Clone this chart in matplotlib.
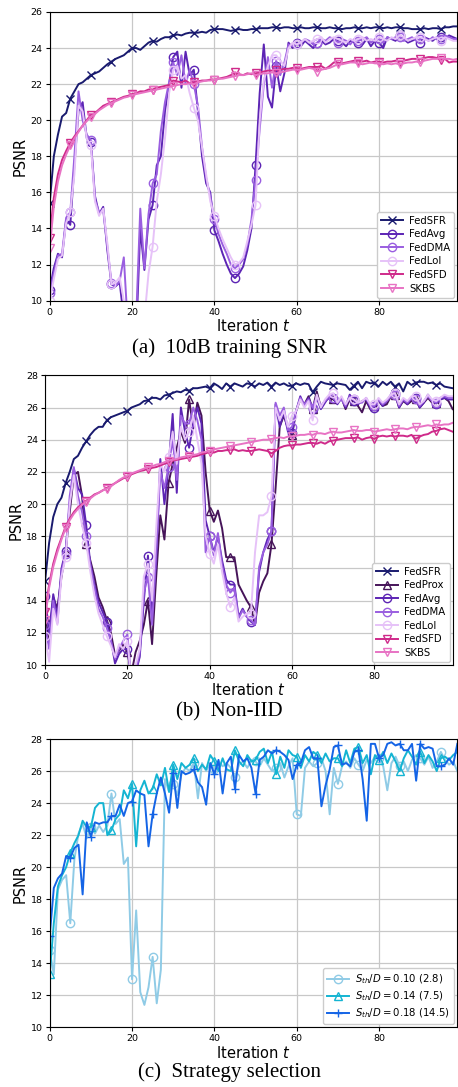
import numpy as np
import matplotlib
matplotlib.use("Agg")
import matplotlib.pyplot as plt

iters = np.arange(100)

# ---- (a) 10dB training SNR ----
a_fedsfr = [15.4, 18.0, 19.2, 20.2, 20.4, 21.2, 21.6, 22.0, 22.1, 22.3,
            22.5, 22.6, 22.7, 22.9, 23.1, 23.25, 23.4, 23.5, 23.6, 23.8,
            24.0, 24.0, 23.9, 24.1, 24.3, 24.4, 24.35, 24.5, 24.6, 24.6,
            24.7, 24.75, 24.7, 24.8, 24.85, 24.85, 24.85, 24.9, 24.85, 25.0,
            25.05, 25.05, 25.05, 25.0, 24.95, 25.0, 25.05, 25.0, 25.0, 25.05,
            25.05, 25.1, 25.1, 25.1, 25.15, 25.15, 25.1, 25.15, 25.15, 25.1,
            25.1, 25.15, 25.1, 25.1, 25.15, 25.15, 25.1, 25.1, 25.15, 25.1,
            25.1, 25.05, 25.1, 25.1, 25.15, 25.1, 25.1, 25.15, 25.1, 25.15,
            25.15, 25.1, 25.15, 25.1, 25.15, 25.15, 25.1, 25.1, 25.05, 25.05,
            25.05, 25.1, 25.05, 25.1, 25.1, 25.05, 25.15, 25.15, 25.2, 25.2]
a_fedavg = [10.6, 11.8, 12.6, 12.4, 14.5, 14.2, 17.5, 20.5, 21.0, 19.0,
            18.8, 15.8, 14.8, 15.2, 12.8, 10.9, 10.8, 11.0, 9.0, 8.0,
            7.5, 8.0, 14.0, 11.7, 14.5, 15.3, 17.5, 18.0, 20.5, 22.0,
            23.5, 23.8, 21.8, 23.8, 22.5, 22.8, 20.5, 18.0, 16.5, 16.0,
            13.9, 13.3, 12.6, 12.0, 11.5, 11.25, 11.5, 11.9, 12.8, 14.0,
            17.5, 21.5, 24.2, 21.3, 20.7, 23.0, 21.6, 22.6, 24.3, 24.0,
            24.3, 24.1, 24.4, 24.2, 24.0, 24.3, 24.4, 24.2, 24.3, 24.5,
            24.4, 24.3, 24.1, 24.4, 24.3, 24.3, 24.2, 24.5, 24.1, 24.4,
            24.3, 24.0, 24.6, 24.5, 24.4, 24.7, 24.5, 24.3, 24.4, 24.5,
            24.3, 24.6, 24.5, 24.4, 24.6, 24.6, 24.5, 24.7, 24.6, 24.5]
a_feddma = [10.4, 11.5, 12.5, 12.6, 14.6, 14.9, 18.0, 21.6, 20.0, 19.2,
            18.9, 15.6, 14.9, 15.0, 13.0, 11.0, 10.8, 11.1, 12.4, 8.5,
            8.0, 9.0, 15.1, 11.8, 14.8, 16.5, 17.0, 19.4, 21.0, 22.1,
            23.2, 22.5, 23.6, 22.0, 22.8, 22.0, 20.8, 18.5, 16.8, 15.8,
            14.5, 13.7, 13.1, 12.6, 12.0, 11.8, 12.0, 12.3, 13.1, 14.5,
            16.7, 19.5, 22.0, 23.5, 21.8, 23.3, 22.5, 23.2, 24.2, 24.1,
            24.2, 24.3, 24.5, 24.4, 24.2, 24.3, 24.5, 24.4, 24.6, 24.5,
            24.3, 24.5, 24.4, 24.2, 24.5, 24.4, 24.5, 24.6, 24.3, 24.5,
            24.5, 24.3, 24.6, 24.5, 24.6, 24.6, 24.4, 24.5, 24.6, 24.4,
            24.5, 24.6, 24.4, 24.6, 24.5, 24.5, 24.7, 24.6, 24.5, 24.5]
a_fedlol = [10.0, 11.2, 12.3, 12.5, 14.3, 14.9, 17.0, 20.8, 20.5, 19.0,
            18.6, 15.5, 14.7, 15.1, 13.2, 10.9, 11.0, 11.3, 10.0, 8.0,
            7.5, 8.0, 8.5, 9.0, 11.5, 13.0, 15.5, 17.0, 19.0, 21.5,
            22.8, 23.0, 22.3, 22.5, 21.5, 20.7, 20.0, 18.5, 17.0, 15.5,
            14.7, 14.0, 13.4, 12.9, 12.4, 12.0, 12.1, 12.4, 13.3, 14.2,
            15.3, 20.0, 22.2, 23.0, 23.6, 23.6, 23.3, 23.0, 24.0, 24.3,
            24.2, 24.3, 24.5, 24.3, 24.4, 24.5, 24.6, 24.3, 24.5, 24.6,
            24.5, 24.4, 24.3, 24.5, 24.4, 24.5, 24.6, 24.4, 24.5, 24.4,
            24.6, 24.5, 24.4, 24.6, 24.5, 24.7, 24.6, 24.4, 24.5, 24.6,
            24.6, 24.5, 24.4, 24.5, 24.6, 24.4, 24.6, 24.5, 24.4, 24.4]
a_fedsfd = [13.5, 15.7, 17.0, 17.8, 18.3, 18.75, 19.1, 19.4, 19.7, 20.0,
            20.3, 20.4, 20.6, 20.8, 20.9, 21.0, 21.1, 21.2, 21.3, 21.35,
            21.45, 21.5, 21.6, 21.6, 21.7, 21.7, 21.8, 21.85, 21.9, 21.95,
            22.2, 22.15, 22.1, 22.2, 22.05, 22.1, 22.15, 22.2, 22.2, 22.25,
            22.25, 22.3, 22.35, 22.4, 22.5, 22.65, 22.55, 22.5, 22.6, 22.55,
            22.6, 22.65, 22.7, 22.75, 22.75, 22.8, 22.8, 22.85, 22.85, 22.9,
            22.9, 22.85, 22.9, 22.95, 22.95, 22.95, 23.0, 22.85, 23.0, 23.2,
            23.2, 23.15, 23.2, 23.25, 23.3, 23.3, 23.25, 23.3, 23.2, 23.25,
            23.25, 23.2, 23.25, 23.25, 23.3, 23.25, 23.3, 23.35, 23.4, 23.4,
            23.4, 23.45, 23.5, 23.5, 23.45, 23.35, 23.4, 23.2, 23.25, 23.25]
a_skbs = [12.9, 15.2, 16.6, 17.5, 18.1, 18.6, 19.0, 19.35, 19.7, 19.95,
          20.2, 20.35, 20.55, 20.7, 20.85, 20.95, 21.05, 21.15, 21.25, 21.3,
          21.4, 21.45, 21.5, 21.55, 21.6, 21.65, 21.7, 21.75, 21.8, 21.85,
          21.9, 21.95, 22.0, 22.0, 22.05, 22.0, 22.1, 22.15, 22.2, 22.2,
          22.25, 22.3, 22.3, 22.35, 22.4, 22.45, 22.5, 22.5, 22.55, 22.6,
          22.5, 22.55, 22.6, 22.6, 22.65, 22.6, 22.65, 22.7, 22.75, 22.8,
          22.8, 22.8, 22.85, 22.9, 22.85, 22.7, 22.8, 22.85, 22.9, 23.0,
          23.1, 23.1, 23.15, 23.2, 23.2, 23.15, 23.1, 23.15, 23.2, 23.15,
          23.15, 23.1, 23.15, 23.1, 23.15, 23.1, 23.15, 23.2, 23.2, 23.25,
          23.2, 23.3, 23.35, 23.4, 23.4, 23.45, 23.4, 23.4, 23.35, 23.4]

# ---- (b) Non-IID ----
b_fedsfr = [15.2, 17.6, 19.2, 20.0, 20.4, 21.3, 22.0, 22.8, 23.0, 23.5,
            23.9, 24.3, 24.6, 24.8, 24.8, 25.2, 25.4, 25.5, 25.6, 25.7,
            25.8, 26.0, 26.1, 26.2, 26.4, 26.45, 26.6, 26.6, 26.5, 26.75,
            26.8, 26.9, 27.0, 26.95, 27.1, 27.05, 27.2, 27.2, 27.25, 27.3,
            27.2, 27.5, 27.35, 27.15, 27.5, 27.3, 27.5, 27.4, 27.3, 27.5,
            27.45, 27.3, 27.5, 27.4, 27.55, 27.3, 27.55, 27.4, 27.5, 27.35,
            27.35, 27.5, 27.4, 27.5, 27.45, 26.95, 27.3, 27.6, 27.5, 27.45,
            27.4, 27.5, 27.45, 27.4, 27.1, 27.35, 27.6, 27.2, 27.6, 27.5,
            27.55, 27.3, 27.6, 27.4, 27.6, 27.3, 27.5, 27.0, 27.6, 27.4,
            27.55, 27.6, 27.6, 27.5, 27.55, 27.4, 27.5, 27.3, 27.25, 27.2]
b_fedprox = [13.0, 11.5, 14.2, 13.5, 15.5, 17.0, 19.5, 21.8, 22.0, 20.5,
             17.5, 16.5, 15.5, 14.2, 13.6, 12.8, 12.0, 10.6, 10.9, 11.3,
             10.8, 9.5, 10.8, 11.5, 12.5, 14.0, 11.3, 15.5, 19.3, 17.8,
             21.3, 22.5, 23.5, 24.5, 23.8, 26.5, 24.7, 26.3, 25.5, 22.0,
             19.6, 18.9, 19.6, 18.5, 16.7, 16.7, 16.7, 15.0, 14.5, 14.0,
             13.6, 12.5, 14.5, 15.2, 15.7, 17.5, 21.0, 24.8, 25.5, 24.7,
             24.3, 25.8, 26.5, 26.2, 26.7, 25.9, 27.0, 26.0, 26.4, 26.6,
             26.5, 26.3, 26.6, 25.9, 26.5, 26.4, 26.1, 25.7, 26.4, 25.9,
             26.1, 26.4, 26.1, 26.2, 26.7, 26.8, 26.0, 26.4, 26.2, 26.4,
             26.5, 26.0, 26.3, 26.6, 26.3, 26.3, 26.5, 26.6, 26.4, 25.9]
b_fedavg = [14.3, 12.0, 14.4, 13.0, 16.0, 17.1, 20.0, 22.2, 21.0, 20.6,
            18.7, 16.3, 15.0, 13.9, 13.3, 12.7, 11.6, 10.1, 10.7, 11.0,
            11.0, 9.2, 9.5, 10.5, 14.0, 16.8, 13.0, 16.5, 22.8, 20.0,
            22.3, 25.6, 20.7, 26.0, 24.5, 23.5, 25.0, 26.0, 25.0, 19.0,
            18.0, 17.0, 18.0, 16.5, 15.3, 15.0, 15.0, 13.0, 13.5, 13.0,
            12.7, 12.5, 15.8, 17.0, 17.8, 18.3, 26.2, 24.8, 25.7, 24.5,
            24.4, 25.8, 26.7, 26.1, 26.6, 25.9, 26.6, 25.9, 26.3, 26.7,
            26.6, 26.2, 26.6, 26.0, 26.8, 26.4, 26.2, 26.4, 26.5, 26.0,
            26.0, 26.5, 26.1, 26.4, 26.8, 26.9, 26.0, 26.5, 26.2, 26.6,
            26.6, 26.0, 26.3, 26.8, 26.4, 26.25, 26.5, 26.6, 26.5, 26.5]
b_feddma = [12.5, 11.0, 14.0, 12.6, 15.8, 16.9, 20.5, 22.3, 20.5, 19.5,
            18.0, 16.2, 14.8, 13.5, 13.0, 12.3, 11.5, 10.4, 11.0, 11.5,
            11.9, 9.0, 9.5, 10.8, 14.5, 15.5, 12.5, 17.0, 22.0, 21.0,
            22.3, 24.0, 21.5, 25.5, 25.0, 25.0, 26.0, 25.2, 24.0, 17.0,
            18.0, 16.8, 18.2, 16.2, 15.0, 14.5, 14.8, 12.9, 13.4, 13.0,
            12.8, 12.5, 16.1, 17.0, 17.5, 18.3, 26.3, 25.5, 26.0, 24.6,
            24.8, 25.8, 26.6, 26.2, 26.5, 26.0, 26.7, 26.1, 26.4, 26.7,
            26.6, 26.3, 26.5, 26.1, 26.7, 26.5, 26.3, 26.3, 26.6, 26.1,
            26.1, 26.5, 26.2, 26.4, 26.7, 26.8, 26.1, 26.5, 26.3, 26.6,
            26.5, 26.1, 26.4, 26.7, 26.4, 26.3, 26.6, 26.7, 26.6, 26.6]
b_fedlol = [11.8, 10.2, 13.5, 12.5, 15.5, 16.7, 20.0, 21.8, 20.0, 18.7,
            17.6, 15.8, 14.3, 13.2, 12.5, 11.8, 11.2, 10.5, 11.3, 11.0,
            11.5, 9.0, 10.0, 11.0, 15.5, 16.3, 14.0, 18.5, 22.5, 22.0,
            22.9, 24.5, 22.5, 24.8, 24.0, 24.5, 25.5, 24.0, 22.5, 18.0,
            16.9, 16.3, 17.5, 15.8, 14.5, 13.6, 14.2, 12.7, 13.0, 13.2,
            13.2, 17.0, 19.3, 19.3, 19.5, 20.5, 26.0, 25.2, 25.8, 24.8,
            25.5, 25.8, 26.5, 26.0, 26.4, 25.2, 26.8, 26.0, 26.5, 26.8,
            26.9, 26.3, 26.7, 26.2, 26.6, 26.5, 26.3, 26.4, 26.6, 26.2,
            26.2, 26.6, 26.3, 26.5, 26.8, 26.9, 26.2, 26.6, 26.4, 26.7,
            26.7, 26.2, 26.4, 26.8, 26.5, 26.4, 26.6, 26.8, 26.7, 26.7]
b_fedsfd = [13.3, 15.0, 16.3, 17.2, 17.9, 18.6, 19.1, 19.5, 19.8, 20.0,
            20.2, 20.4, 20.6, 20.7, 20.85, 21.0, 21.15, 21.3, 21.45, 21.6,
            21.7, 21.85, 21.95, 22.05, 22.1, 22.2, 22.25, 22.3, 22.4, 22.5,
            22.6, 22.7, 22.75, 22.8, 22.85, 22.9, 22.95, 23.0, 23.1, 23.15,
            23.25, 23.2, 23.3, 23.3, 23.35, 23.35, 23.4, 23.3, 23.35, 23.3,
            23.3, 23.35, 23.4, 23.35, 23.3, 23.15, 23.3, 23.5, 23.6, 23.65,
            23.65, 23.7, 23.7, 23.75, 23.8, 23.8, 23.75, 23.85, 23.75, 23.9,
            23.95, 24.0, 24.05, 24.1, 24.1, 24.1, 24.15, 24.0, 24.1, 24.15,
            24.05, 24.2, 24.25, 24.2, 24.25, 24.2, 24.25, 24.25, 24.2, 24.3,
            24.05, 24.2, 24.3, 24.35, 24.5, 24.55, 24.65, 24.7, 24.6, 24.5]
b_skbs = [12.8, 14.8, 16.1, 17.0, 17.8, 18.5, 19.0, 19.4, 19.7, 19.95,
          20.15, 20.35, 20.55, 20.7, 20.85, 20.95, 21.1, 21.3, 21.5, 21.65,
          21.75, 21.9, 22.0, 22.1, 22.2, 22.3, 22.35, 22.45, 22.5, 22.6,
          22.7, 22.75, 22.8, 22.9, 22.95, 23.0, 23.05, 23.1, 23.2, 23.25,
          23.3, 23.4, 23.45, 23.5, 23.55, 23.6, 23.65, 23.7, 23.75, 23.8,
          23.85, 23.9, 23.95, 24.0, 24.0, 24.05, 24.1, 24.15, 24.1, 24.2,
          24.2, 24.25, 24.3, 24.3, 24.35, 24.3, 24.4, 24.4, 24.35, 24.45,
          24.5, 24.45, 24.45, 24.5, 24.55, 24.6, 24.55, 24.55, 24.6, 24.6,
          24.5, 24.55, 24.6, 24.65, 24.6, 24.65, 24.7, 24.7, 24.65, 24.75,
          24.8, 24.8, 24.85, 24.9, 24.85, 24.95, 24.9, 24.95, 24.95, 25.05]

# ---- (c) Strategy selection ----
c_s010 = [14.8, 13.3, 18.6, 19.2, 19.5, 16.5, 20.5, 22.1, 22.7, 21.8,
          22.5, 22.1, 22.6, 22.2, 22.6, 24.6, 22.7, 23.0, 20.2, 20.6,
          13.0, 17.3, 12.2, 11.4, 12.5, 14.4, 11.5, 13.6, 25.5, 24.7,
          25.2, 24.5, 25.8, 26.2, 26.0, 26.5, 24.3, 26.5, 26.0, 26.5,
          26.1, 26.6, 26.3, 26.5, 26.2, 25.6, 26.4, 26.6, 26.2, 26.7,
          26.6, 26.3, 26.8, 26.4, 26.0, 26.2, 26.5, 25.6, 26.3, 26.8,
          23.3, 23.2, 26.2, 26.6, 26.3, 26.5, 26.8, 26.0, 23.3, 26.2,
          25.2, 26.3, 26.6, 26.2, 26.8, 26.4, 26.0, 26.7, 26.5, 26.9,
          26.8, 26.3, 24.8, 26.5, 26.9, 26.3, 26.6, 26.0, 26.7, 27.0,
          26.8, 26.4, 26.9, 26.2, 26.6, 27.2, 26.7, 26.4, 26.6, 26.0]
c_s014 = [13.3, 16.5, 18.8, 19.5, 20.0, 20.9, 21.5, 22.0, 22.9, 22.5,
          22.5, 23.7, 24.0, 24.0, 22.0, 22.3, 23.0, 23.3, 24.8, 24.3,
          25.2, 21.3, 24.8, 25.4, 24.6, 24.9, 25.8, 25.1, 26.2, 24.7,
          26.4, 25.5, 26.5, 26.2, 26.4, 26.8, 26.0, 26.4, 26.1, 27.0,
          26.6, 26.0, 26.8, 26.1, 26.0, 27.3, 26.6, 26.3, 27.0, 26.6,
          26.7, 27.2, 27.4, 26.5, 27.2, 25.8, 26.9, 26.2, 27.3, 27.0,
          26.9, 26.2, 27.0, 26.6, 27.2, 27.0, 26.5, 27.1, 26.6, 26.8,
          26.8, 26.3, 27.3, 26.5, 27.4, 27.5, 26.5, 27.0, 25.8, 27.0,
          26.7, 27.2, 26.5, 27.1, 26.6, 26.0, 26.8, 27.3, 26.9, 26.4,
          27.2, 26.5, 27.0, 26.6, 26.0, 26.8, 26.9, 26.7, 27.0, 27.2]
c_s018 = [15.7, 18.7, 19.3, 19.6, 20.7, 20.6, 21.2, 21.4, 18.3, 22.8,
          21.9, 22.8, 22.7, 22.8, 22.8, 23.2, 23.2, 23.9, 23.2, 24.0,
          24.1, 24.8, 24.6, 24.5, 21.3, 23.3, 24.6, 25.6, 24.6, 23.4,
          25.9, 23.7, 26.0, 25.8, 25.9, 26.1, 25.3, 25.0, 23.9, 26.5,
          25.8, 26.7, 24.6, 26.5, 26.9, 24.9, 27.0, 26.6, 26.8, 26.2,
          24.6, 26.7, 26.9, 27.3, 27.1, 27.3, 27.2, 27.0, 26.7, 25.5,
          26.4, 26.5, 27.3, 27.5, 26.8, 26.8, 23.8, 25.1, 26.1, 27.5,
          27.6, 26.4, 26.5, 26.3, 27.2, 27.3, 25.5, 22.9, 27.7, 27.7,
          26.8, 27.0, 27.7, 27.8, 27.6, 27.7, 27.3, 27.3, 27.7, 25.4,
          27.7, 27.4, 27.5, 27.4, 26.3, 26.3, 26.4, 26.8, 26.4, 27.7]

series_a = [("FedSFR", a_fedsfr, "#191a6e", "x"),
            ("FedAvg", a_fedavg, "#5c24b4", "o"),
            ("FedDMA", a_feddma, "#9a5ee0", "o"),
            ("FedLol", a_fedlol, "#e6c2f8", "o"),
            ("FedSFD", a_fedsfd, "#cf2a8a", "v"),
            ("SKBS", a_skbs, "#e873c4", "v")]
series_b = [("FedSFR", b_fedsfr, "#191a6e", "x"),
            ("FedProx", b_fedprox, "#461459", "^"),
            ("FedAvg", b_fedavg, "#5c24b4", "o"),
            ("FedDMA", b_feddma, "#9a5ee0", "o"),
            ("FedLol", b_fedlol, "#e6c2f8", "o"),
            ("FedSFD", b_fedsfd, "#cf2a8a", "v"),
            ("SKBS", b_skbs, "#e873c4", "v")]
series_c = [(r"$S_{th}/D = 0.10$ (2.8)", c_s010, "#8fcbe6", "o"),
            (r"$S_{th}/D = 0.14$ (7.5)", c_s014, "#14b4d2", "^"),
            (r"$S_{th}/D = 0.18$ (14.5)", c_s018, "#1464e6", "+")]

fig = plt.figure(figsize=(4.58, 10.87), dpi=100)
boxes = [[0.1085, 0.7234, 0.890, 0.2656],
         [0.0983, 0.3882, 0.890, 0.2665],
         [0.1085, 0.0549, 0.890, 0.2652]]
ylims = [(10, 26), (10, 28), (10, 28)]
captions = ["(a)  10dB training SNR", "(b)  Non-IID", "(c)  Strategy selection"]
cap_y = [0.680, 0.345, 0.0135]

for box, series, ylim, cap, cy in zip(boxes, [series_a, series_b, series_c], ylims, captions, cap_y):
    ax = fig.add_axes(box)
    for name, vals, col, mk in series:
        ax.plot(iters, vals, color=col, marker=mk, markevery=5, markersize=6,
                markerfacecolor="none", markeredgewidth=1.0, linewidth=1.4, label=name)
    ax.set_xlim(0, 99)
    ax.set_ylim(*ylim)
    ax.set_xticks([0, 20, 40, 60, 80])
    ax.set_yticks(np.arange(10, ylim[1] + 1, 2))
    ax.grid(True, color="#c8c8c8", linewidth=0.9)
    ax.set_axisbelow(True)
    ax.tick_params(labelsize=6.8, length=3, pad=2)
    ax.set_xlabel("Iteration $t$", fontsize=10.5, labelpad=1)
    ax.set_ylabel("PSNR", fontsize=10.5, labelpad=2)
    ax.legend(loc="lower right", fontsize=7.3, framealpha=1, handlelength=2.2,
              borderaxespad=0.3, labelspacing=0.35, handletextpad=0.6)
    fig.text(0.5, cy, cap, ha="center", va="center", fontsize=15,
             family="Liberation Serif")

fig.savefig("out.png", dpi=100)
